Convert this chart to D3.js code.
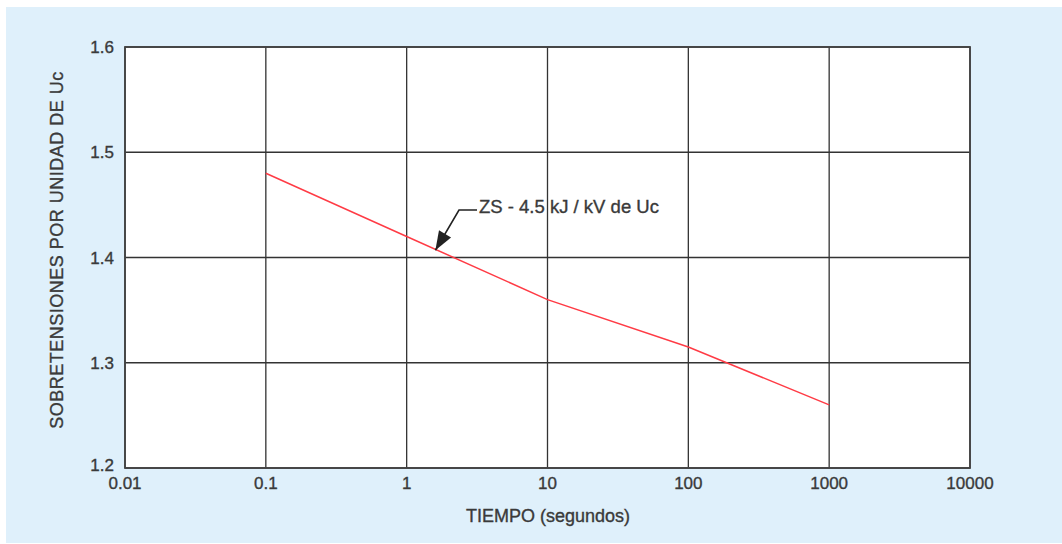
<!DOCTYPE html>
<html><head><meta charset="utf-8">
<script src="https://cdn.jsdelivr.net/npm/d3@7"></script>
<style>body{margin:0;background:#fff;}svg{display:block;font-family:"Liberation Sans",Arial,sans-serif;}
text{stroke:#3a3a3a;stroke-width:0.35px;}</style>
</head><body><svg id="c" width="1062" height="544"></svg>
<script>
const times = [0.1, 1, 10, 100, 1000];
const overvoltage = [1.48, 1.42, 1.36, 1.315, 1.26];
const xTicks = [0.01, 0.1, 1, 10, 100, 1000, 10000];
const xTickLabels = ["0.01", "0.1", "1", "10", "100", "1000", "10000"];
const yTicks = [1.2, 1.3, 1.4, 1.5, 1.6];
const yTickLabels = ["1.2", "1.3", "1.4", "1.5", "1.6"];
const seriesLabel = "ZS - 4.5 kJ / kV de Uc";
const annotationAt = [1.6, 1.405];

const svg = d3.select("#c");
svg.append("rect").attr("x",6).attr("y",7).attr("width",1062).attr("height",536).attr("fill","#dff0fb");

const L=125,R=970,T=47,B=468;
const x = d3.scaleLog().domain([0.01,10000]).range([L,R]);
const y = d3.scaleLinear().domain([1.2,1.6]).range([B,T]);

svg.append("rect").attr("x",L).attr("y",T).attr("width",R-L).attr("height",B-T).attr("fill","#fff");

const gc="#333";
svg.append("g").selectAll("line").data(xTicks).join("line")
  .attr("x1",d=>x(d)).attr("x2",d=>x(d)).attr("y1",T).attr("y2",B)
  .attr("stroke",gc).attr("stroke-width",1.3);
svg.append("g").selectAll("line").data(yTicks).join("line")
  .attr("x1",L).attr("x2",R).attr("y1",d=>y(d)).attr("y2",d=>y(d))
  .attr("stroke",gc).attr("stroke-width",1.3);
svg.append("rect").attr("x",L).attr("y",T).attr("width",R-L).attr("height",B-T)
  .attr("fill","none").attr("stroke","#444").attr("stroke-width",1.8);

const tc="#3a3a3a";
svg.append("g").selectAll("text").data(xTicks).join("text")
  .attr("x",d=>x(d)).attr("y",B+21).attr("text-anchor","middle")
  .attr("font-size",17).attr("fill",tc).text((d,i)=>xTickLabels[i]);
svg.append("g").selectAll("text").data(yTicks).join("text")
  .attr("x",L-11).attr("y",d=>y(d)+(d===1.2?3:6)).attr("text-anchor","end")
  .attr("font-size",17).attr("fill",tc).text((d,i)=>yTickLabels[i]);

svg.append("text").attr("x",548).attr("y",522).attr("text-anchor","middle")
  .attr("font-size",18).attr("fill",tc).text("TIEMPO (segundos)");
svg.append("text").attr("transform","translate(63,250) rotate(-90)").attr("text-anchor","middle")
  .attr("font-size",18).attr("letter-spacing",0.5).attr("fill",tc).text("SOBRETENSIONES POR UNIDAD DE Uc");

const data = times.map((t,i)=>[t,overvoltage[i]]);
svg.append("path").datum(data)
  .attr("d",d3.line().x(d=>x(d[0])).y(d=>y(d[1])))
  .attr("fill","none").attr("stroke","#ff3b45").attr("stroke-width",1.5);

// annotation leader with arrowhead
const tipX = x(annotationAt[0]), tipY = y(annotationAt[1]) - 2;
svg.append("path")
  .attr("d",`M477,210L459,210L${tipX},${tipY}`)
  .attr("fill","none").attr("stroke","#222").attr("stroke-width",1.6);
svg.append("path")
  .attr("d",(()=>{const ang=Math.atan2(tipY-210,tipX-459);const len=19,w=7;
    const bx=tipX-len*Math.cos(ang),by=tipY-len*Math.sin(ang);
    const px=-Math.sin(ang)*w,py=Math.cos(ang)*w;
    return `M${tipX},${tipY}L${bx+px},${by+py}L${bx-px},${by-py}Z`;})())
  .attr("fill","#222");
svg.append("text").attr("x",479).attr("y",213).attr("font-size",18.5).attr("fill",tc).text(seriesLabel);
</script></body></html>
